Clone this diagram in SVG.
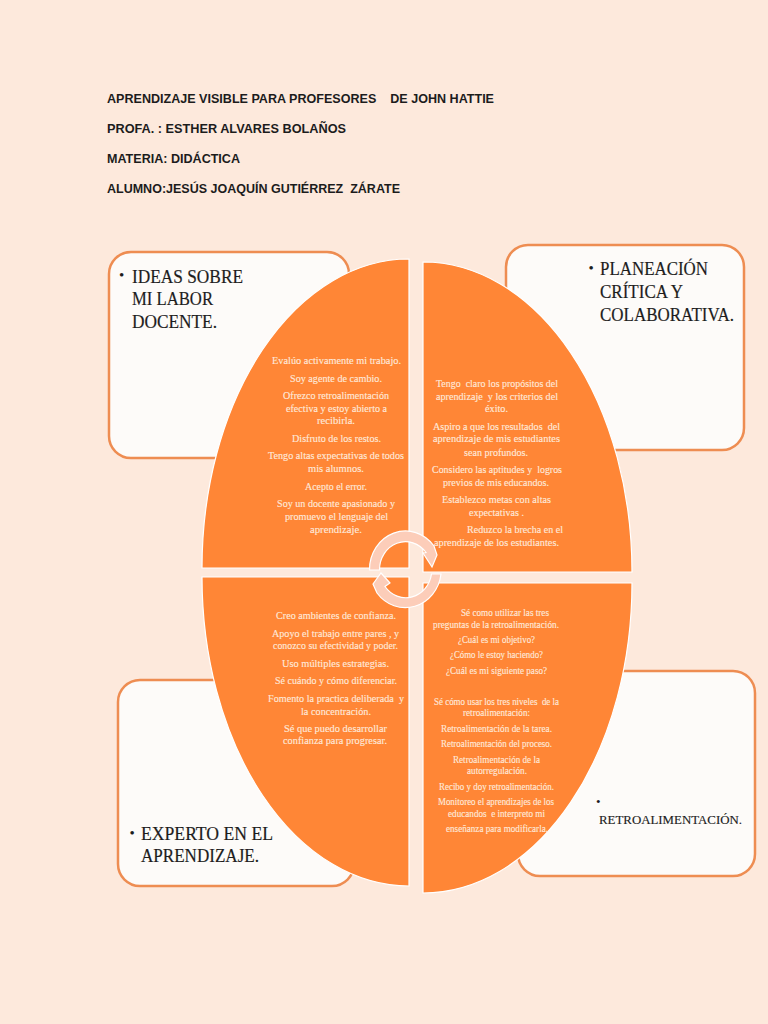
<svg xmlns="http://www.w3.org/2000/svg" width="768" height="1024" viewBox="0 0 768 1024">
<style>
.h{font:bold 13px "Liberation Sans",Arial,sans-serif;fill:#1c1c1c}
.t{font-family:"Liberation Serif","Times New Roman",serif;font-size:19px;fill:#1d1d1d;stroke:#1d1d1d;stroke-width:.2}
.u{font-family:"Liberation Serif","Times New Roman",serif;font-size:15px;fill:#1d1d1d}
.r{font-family:"Liberation Serif","Times New Roman",serif;font-size:13.5px;fill:#1d1d1d;stroke:#1d1d1d;stroke-width:.15}
.b{font-family:"Liberation Serif","Times New Roman",serif;font-size:10.5px;fill:#fee8da;stroke:#fee8da;stroke-width:.15}
.s{font-size:9.5px}
.box{fill:#fdfbf9;stroke:#ee8d52;stroke-width:2.5}
.q{fill:#ff8636;stroke:#fff;stroke-width:1.2}
.c{fill:#fccdb9;stroke:#fff;stroke-width:1.2}
</style>
<rect width="768" height="1024" fill="#fde9dc"/>
<g id="encabezado">
<text class="h" x="107" y="103" textLength="387" lengthAdjust="spacingAndGlyphs" xml:space="preserve">APRENDIZAJE VISIBLE PARA PROFESORES    DE JOHN HATTIE</text>
<text class="h" x="107" y="133" textLength="239" lengthAdjust="spacingAndGlyphs">PROFA. : ESTHER ALVARES BOLAÑOS</text>
<text class="h" x="107" y="163" textLength="133" lengthAdjust="spacingAndGlyphs">MATERIA: DIDÁCTICA</text>
<text class="h" x="107" y="193" textLength="293" lengthAdjust="spacingAndGlyphs" xml:space="preserve">ALUMNO:JESÚS JOAQUÍN GUTIÉRREZ  ZÁRATE</text>
</g>
<g id="caja-ideas">
<rect class="box" x="109" y="252" width="240" height="206" rx="22"/>
<text class="u" x="119" y="280">•</text>
<text class="t" x="132" y="283" textLength="111" lengthAdjust="spacingAndGlyphs">IDEAS SOBRE</text>
<text class="t" x="132" y="305" textLength="81" lengthAdjust="spacingAndGlyphs">MI LABOR</text>
<text class="t" x="132" y="328" textLength="85" lengthAdjust="spacingAndGlyphs">DOCENTE.</text>
</g>
<g id="caja-planeacion">
<rect class="box" x="506" y="245" width="238" height="205" rx="22"/>
<text class="u" x="588.5" y="273">•</text>
<text class="t" x="600" y="275" textLength="108" lengthAdjust="spacingAndGlyphs">PLANEACIÓN</text>
<text class="t" x="600" y="298" textLength="83" lengthAdjust="spacingAndGlyphs">CRÍTICA Y</text>
<text class="t" x="600" y="321" textLength="134" lengthAdjust="spacingAndGlyphs">COLABORATIVA.</text>
</g>
<g id="caja-experto">
<rect class="box" x="118" y="680" width="236" height="206" rx="22"/>
<text class="u" x="129.5" y="838">•</text>
<text class="t" x="141" y="840" textLength="132" lengthAdjust="spacingAndGlyphs">EXPERTO EN EL</text>
<text class="t" x="141" y="862" textLength="118" lengthAdjust="spacingAndGlyphs">APRENDIZAJE.</text>
</g>
<g id="caja-retro">
<rect class="box" x="518" y="671" width="237" height="205" rx="22"/>
<text class="u" style="font-size:13px" x="596" y="806">•</text>
<text class="r" x="599" y="824" textLength="143" lengthAdjust="spacingAndGlyphs">RETROALIMENTACIÓN.</text>
</g>
<g id="cuadrante-ideas">
<path class="q" d="M409 259A207 309 0 0 0 202 568H409Z"/>
<text class="b" x="272" y="364" textLength="129" lengthAdjust="spacingAndGlyphs">Evalúo activamente mi trabajo.</text>
<text class="b" x="290" y="382" textLength="92" lengthAdjust="spacingAndGlyphs">Soy agente de cambio.</text>
<text class="b" x="283" y="399" textLength="106" lengthAdjust="spacingAndGlyphs">Ofrezco retroalimentación</text>
<text class="b" x="286" y="412" textLength="101" lengthAdjust="spacingAndGlyphs">efectiva y estoy abierto a</text>
<text class="b" x="317" y="424" textLength="38" lengthAdjust="spacingAndGlyphs">recibirla.</text>
<text class="b" x="292" y="442" textLength="89" lengthAdjust="spacingAndGlyphs">Disfruto de los restos.</text>
<text class="b" x="268" y="459" textLength="136" lengthAdjust="spacingAndGlyphs">Tengo altas expectativas de todos</text>
<text class="b" x="308" y="472" textLength="56" lengthAdjust="spacingAndGlyphs">mis alumnos.</text>
<text class="b" x="305" y="490" textLength="62" lengthAdjust="spacingAndGlyphs">Acepto el error.</text>
<text class="b" x="277" y="507" textLength="118" lengthAdjust="spacingAndGlyphs">Soy un docente apasionado y</text>
<text class="b" x="285" y="520" textLength="103" lengthAdjust="spacingAndGlyphs">promuevo el lenguaje del</text>
<text class="b" x="310" y="533" textLength="52" lengthAdjust="spacingAndGlyphs">aprendizaje.</text>
</g>
<g id="cuadrante-planeacion">
<path class="q" d="M423 262A209 310 0 0 1 632 572H423Z"/>
<text class="b" x="436" y="387" textLength="122" lengthAdjust="spacingAndGlyphs" xml:space="preserve">Tengo  claro los propósitos del</text>
<text class="b" x="436" y="400" textLength="122" lengthAdjust="spacingAndGlyphs" xml:space="preserve">aprendizaje  y los criterios del</text>
<text class="b" x="485" y="412" textLength="23" lengthAdjust="spacingAndGlyphs">éxito.</text>
<text class="b" x="433" y="430" textLength="127" lengthAdjust="spacingAndGlyphs" xml:space="preserve">Aspiro a que los resultados  del</text>
<text class="b" x="433" y="442" textLength="127" lengthAdjust="spacingAndGlyphs">aprendizaje de mis estudiantes</text>
<text class="b" x="464" y="456" textLength="64" lengthAdjust="spacingAndGlyphs">sean profundos.</text>
<text class="b" x="432" y="473" textLength="130" lengthAdjust="spacingAndGlyphs" xml:space="preserve">Considero las aptitudes y  logros</text>
<text class="b" x="443" y="486" textLength="106" lengthAdjust="spacingAndGlyphs">previos de mis educandos.</text>
<text class="b" x="442" y="503" textLength="109" lengthAdjust="spacingAndGlyphs">Establezco metas con altas</text>
<text class="b" x="469" y="516" textLength="55" lengthAdjust="spacingAndGlyphs">expectativas .</text>
<text class="b" x="467" y="533" textLength="96" lengthAdjust="spacingAndGlyphs">Reduzco la brecha en el</text>
<text class="b" x="434" y="546" textLength="125" lengthAdjust="spacingAndGlyphs">aprendizaje de los estudiantes.</text>
</g>
<g id="cuadrante-experto">
<path class="q" d="M202 577H409V886A207 309 0 0 1 202 577Z"/>
<text class="b" x="276" y="619" textLength="120" lengthAdjust="spacingAndGlyphs">Creo ambientes de confianza.</text>
<text class="b" x="272" y="637" textLength="127" lengthAdjust="spacingAndGlyphs">Apoyo el trabajo entre pares , y</text>
<text class="b" x="273" y="649" textLength="125" lengthAdjust="spacingAndGlyphs">conozco su efectividad y poder.</text>
<text class="b" x="282" y="667" textLength="107" lengthAdjust="spacingAndGlyphs">Uso múltiples estrategias.</text>
<text class="b" x="275" y="684" textLength="122" lengthAdjust="spacingAndGlyphs">Sé cuándo y cómo diferenciar.</text>
<text class="b" x="268" y="702" textLength="136" lengthAdjust="spacingAndGlyphs" xml:space="preserve">Fomento la practica deliberada  y</text>
<text class="b" x="301" y="715" textLength="70" lengthAdjust="spacingAndGlyphs">la concentración.</text>
<text class="b" x="284" y="732" textLength="103" lengthAdjust="spacingAndGlyphs">Sé que puedo desarrollar</text>
<text class="b" x="283" y="744" textLength="104" lengthAdjust="spacingAndGlyphs">confianza para progresar.</text>
</g>
<g id="cuadrante-retro">
<path class="q" d="M423 583H632A209 310 0 0 1 423 893Z"/>
<text class="b s" x="461" y="616" textLength="88" lengthAdjust="spacingAndGlyphs">Sé como utilizar las tres</text>
<text class="b s" x="433" y="628" textLength="126" lengthAdjust="spacingAndGlyphs">preguntas de la retroalimentación.</text>
<text class="b s" x="458" y="643" textLength="77" lengthAdjust="spacingAndGlyphs">¿Cuál es mi objetivo?</text>
<text class="b s" x="450" y="658" textLength="93" lengthAdjust="spacingAndGlyphs">¿Cómo le estoy haciendo?</text>
<text class="b s" x="446" y="674" textLength="101" lengthAdjust="spacingAndGlyphs">¿Cuál es mi siguiente paso?</text>
<text class="b s" x="434" y="705" textLength="125" lengthAdjust="spacingAndGlyphs" xml:space="preserve">Sé cómo usar los tres niveles  de la</text>
<text class="b s" x="463" y="716" textLength="67" lengthAdjust="spacingAndGlyphs">retroalimentación:</text>
<text class="b s" x="441" y="732" textLength="111" lengthAdjust="spacingAndGlyphs">Retroalimentación de la tarea.</text>
<text class="b s" x="441" y="747" textLength="111" lengthAdjust="spacingAndGlyphs">Retroalimentación del proceso.</text>
<text class="b s" x="453" y="763" textLength="87" lengthAdjust="spacingAndGlyphs">Retroalimentación de la</text>
<text class="b s" x="467" y="774" textLength="60" lengthAdjust="spacingAndGlyphs">autorregulación.</text>
<text class="b s" x="439" y="790" textLength="115" lengthAdjust="spacingAndGlyphs">Recibo y doy retroalimentación.</text>
<text class="b s" x="438" y="805" textLength="116" lengthAdjust="spacingAndGlyphs">Monitoreo el aprendizajes de los</text>
<text class="b s" x="448" y="817" textLength="97" lengthAdjust="spacingAndGlyphs" xml:space="preserve">educandos  e interpreto mi</text>
<text class="b s" x="446" y="832" textLength="102" lengthAdjust="spacingAndGlyphs">enseñanza para modificarla.</text>
</g>
<g id="conectores">
<path class="c" d="M369.5 570A36 38.5 0 0 1 434 546L437 555L432 567L423 553L426 552.5A26 28 0 0 0 379.5 570Z"/>
<path class="c" d="M441 574A36 38.5 0 0 1 377 593L373 584L381 573L390 583L385 586.5A26 28 0 0 0 431.5 574Z"/>
</g>
</svg>
